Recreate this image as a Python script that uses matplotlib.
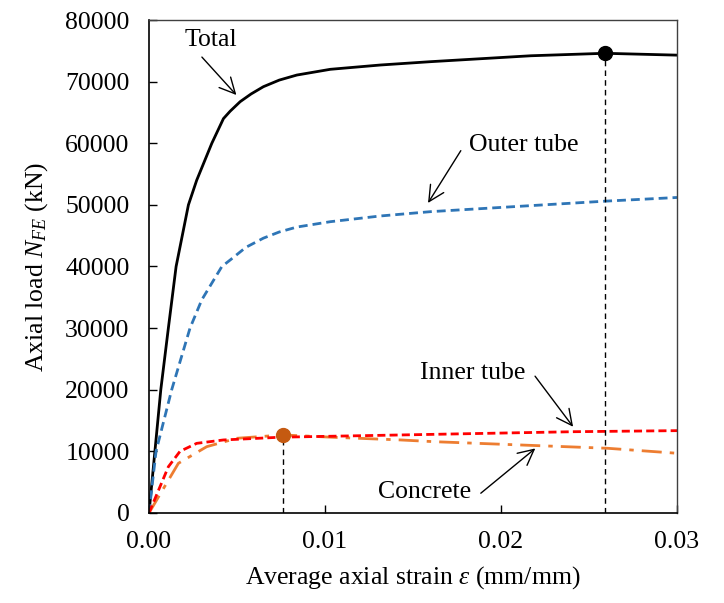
import numpy as np
import matplotlib
matplotlib.use("Agg")
import matplotlib.pyplot as plt

plt.rcParams['font.family'] = ['Liberation Serif', 'DejaVu Serif']
plt.rcParams['mathtext.fontset'] = 'custom'
plt.rcParams['mathtext.rm'] = 'Liberation Serif'
plt.rcParams['mathtext.it'] = 'Liberation Serif:italic'

# values
total_eps = [0, 0.00067, 0.0011, 0.00154, 0.00224, 0.00271, 0.00357, 0.00423,
             0.00461, 0.00518, 0.0058, 0.0065, 0.0074, 0.0084, 0.0103, 0.01315,
             0.016, 0.0217, 0.0259, 0.03]
total_N = [0, 20000, 30000, 40000, 50000, 54000, 60000, 64000,
           65200, 66750, 68000, 69180, 70250, 71070, 72000, 72700,
           73240, 74200, 74600, 74300]

outer_eps = [0, 0.0004, 0.00129, 0.00233, 0.003, 0.00414, 0.00461, 0.0055,
             0.0065, 0.0074, 0.0084, 0.0103, 0.01315, 0.016, 0.0259, 0.03]
outer_N = [0, 10000, 20000, 30000, 34600, 40000, 41050, 43100,
           44600, 45600, 46400, 47270, 48200, 48900, 50600, 51200]

inner_eps = [0, 0.0011, 0.00176, 0.00271, 0.00423, 0.0075, 0.01429, 0.02415, 0.03]
inner_N = [0, 7500, 10000, 11300, 11850, 12300, 12660, 13190, 13360]

concrete_eps = [0, 0.00167, 0.00328, 0.00499, 0.0076, 0.0105, 0.01429, 0.0162,
                0.02207, 0.02605, 0.03]
concrete_N = [0, 8060, 10760, 12120, 12660, 12280, 11850, 11570,
              10930, 10500, 9690]

total_peak = (0.0259, 74600)
concrete_peak = (0.0076, 12660)

fig = plt.figure(figsize=(7.24, 6.03), dpi=100)
ax = fig.add_axes([0.2058, 0.1493, 0.7293, 0.8175])

ax.plot(total_eps, total_N, color='black', lw=2.0)
ax.plot(outer_eps, outer_N, color='#2E75B6', lw=2.0, dashes=(3.2, 1.8))
ax.plot(concrete_eps, concrete_N, color='#ED7D31', lw=2.0, dashes=(7.2, 2.9, 1.6, 2.9))
ax.plot(inner_eps, inner_N, color='#FF0000', lw=2.0, dashes=(2.9, 1.5))

# peak markers with drop lines
ax.plot([total_peak[0]] * 2, [0, total_peak[1]], color='black', lw=1, ls=(0, (4, 3)))
ax.plot([concrete_peak[0]] * 2, [0, concrete_peak[1]], color='black', lw=1, ls=(0, (4, 3)))
ax.plot(*total_peak, 'o', color='black', ms=10, zorder=5)
ax.plot(*concrete_peak, 'o', color='#C55A11', ms=10, zorder=5)

# annotations
arrow = dict(arrowstyle='->', color='black', lw=1, mutation_scale=28)
fs = 18.5
ax.text(0.00353, 76760, 'Total', fontsize=fs, ha='center', va='center')
ax.annotate('', xy=(0.00507, 67500), xytext=(0.0029, 74320), arrowprops=arrow)
ax.text(0.01816, 59700, 'Outer tube', fontsize=fs, ha='left', va='center')
ax.annotate('', xy=(0.01577, 49930), xytext=(0.0178, 59180), arrowprops=arrow)
ax.text(0.01839, 22720, 'Inner tube', fontsize=fs, ha='center', va='center')
ax.annotate('', xy=(0.02419, 13630), xytext=(0.02184, 22560), arrowprops=arrow)
ax.text(0.01565, 3400, 'Concrete', fontsize=fs, ha='center', va='center')
ax.annotate('', xy=(0.02207, 10760), xytext=(0.01873, 2920), arrowprops=arrow)

ax.set_xlim(0, 0.03)
ax.set_ylim(0, 80000)
ax.set_xticks([0, 0.01, 0.02, 0.03])
ax.set_xticklabels(['0.00', '0.01', '0.02', '0.03'])
ax.set_yticks(np.arange(0, 80001, 10000))
ax.tick_params(axis='both', direction='in', labelsize=fs, length=6, width=1)
ax.tick_params(axis='y', pad=14)
ax.tick_params(axis='x', pad=13)

for side in ['left', 'bottom']:
    ax.spines[side].set_color('black')
    ax.spines[side].set_linewidth(1.2)
for side in ['top', 'right']:
    ax.spines[side].set_color('#404040')
    ax.spines[side].set_linewidth(1.0)

ax.set_xlabel(r'Average axial strain $\varepsilon$ (mm/mm)', fontsize=fs, labelpad=8)
ax.set_ylabel(r'Axial load $N_{FE}$ (kN)', fontsize=fs, labelpad=11)

fig.savefig('out.png', dpi=100)
